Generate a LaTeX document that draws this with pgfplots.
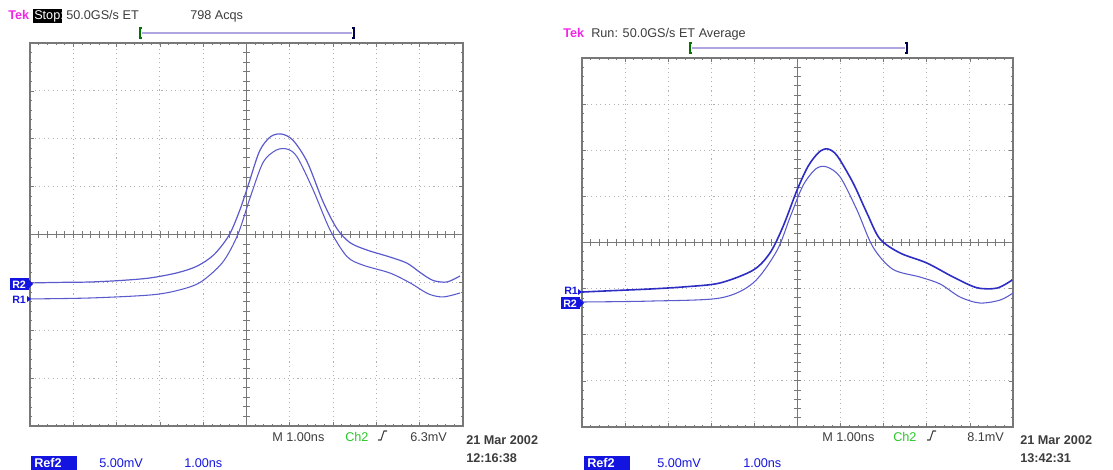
\documentclass[border=0pt]{standalone}
\usepackage{fontspec}
\setmainfont{Liberation Sans}
\usepackage{pgfplots}
\pgfplotsset{compat=1.18}

\definecolor{trace}{RGB}{90,90,205}
\definecolor{tracedk}{RGB}{45,45,195}
\definecolor{tekmag}{RGB}{240,40,230}
\definecolor{chgreen}{RGB}{40,200,40}
\definecolor{refblue}{RGB}{20,20,225}
\definecolor{barcol}{RGB}{175,165,225}
\definecolor{txt}{RGB}{60,60,60}
\definecolor{grat}{RGB}{120,120,120}

% one division = 1 ns horizontally, 5 mV vertically
\pgfplotsset{
  scope/.style={
    scale only axis,
    xmin=-5, xmax=5, ymin=-20, ymax=20,
    xtick distance=1, ytick distance=5,
    minor x tick num=4, minor y tick num=4,
    xticklabels={}, yticklabels={},
    tick pos=both, tick align=inside,
    major tick length=3pt, minor tick length=1.8pt,
    tick style={grat, line width=0.5pt},
    grid=major,
    major grid style={gray!60, line width=0.8pt, dash pattern=on 0.8pt off 2.6pt},
    axis line style={grat, line width=1pt},
  },
}

\newcommand{\crosshair}{%
  \draw[grat, line width=0.7pt] (axis cs:-5,0) -- (axis cs:5,0);
  \draw[grat, line width=0.7pt] (axis cs:0,-20) -- (axis cs:0,20);
  \pgfplotsinvokeforeach{-4.8,-4.6,...,4.8}{
    \draw[grat, line width=0.6pt] (axis cs:##1,-0.35) -- (axis cs:##1,0.35);}
  \pgfplotsinvokeforeach{-19,...,19}{
    \draw[grat, line width=0.6pt] (axis cs:-0.07,##1) -- (axis cs:0.07,##1);}
}

\begin{document}
\begin{tikzpicture}
\fontsize{9.5}{11}\selectfont

% ---------- left screen ----------
\begin{axis}[scope, at={(22.5pt,-319.5pt)}, anchor=south west,
             width=324.75pt, height=287.25pt]
\crosshair
% R2
\addplot[trace, line width=0.9pt, smooth, tension=0.5] coordinates {
 (-5.0,-5.06) (-4.3,-5.0) (-3.61,-4.96) (-2.9,-4.8) (-2.23,-4.54)
 (-1.6,-4.0) (-1.14,-3.3) (-0.75,-2.1) (-0.40,-0.05) (-0.15,2.6)
 (0.05,5.3) (0.30,8.7) (0.55,10.2) (0.80,10.5) (1.07,9.86)
 (1.40,7.6) (1.77,3.4) (2.09,0.6) (2.39,-0.85) (2.78,-1.62)
 (3.31,-2.35) (3.71,-3.0) (4.02,-4.0) (4.31,-4.8) (4.63,-4.96) (4.93,-4.33)};
% R1
\addplot[trace, line width=0.8pt, smooth, tension=0.5] coordinates {
 (-5.0,-6.73) (-3.61,-6.63) (-2.23,-6.32) (-1.6,-5.85) (-1.07,-5.0)
 (-0.55,-2.9) (-0.2,0.0) (0.08,3.8) (0.38,7.5) (0.68,8.8)
 (0.94,8.92) (1.17,8.09) (1.54,4.65) (1.93,0.47) (2.32,-2.3)
 (2.69,-3.2) (3.31,-4.02) (3.78,-5.06) (4.20,-6.2) (4.54,-6.52) (4.93,-6.11)};
\end{axis}

% ---------- right screen ----------
\begin{axis}[scope, at={(436.5pt,-320.25pt)}, anchor=south west,
             width=323.25pt, height=276.75pt]
\crosshair
% R1 (noisy)
\addplot[tracedk, line width=1.2pt, smooth, tension=0.5] coordinates {
 (-5.0,-5.37) (-4.2,-5.2) (-3.42,-5.04) (-2.6,-4.8) (-1.80,-4.39)
 (-1.03,-3.0) (-0.64,-1.14) (-0.34,1.68) (-0.01,5.69) (0.25,8.3)
 (0.50,9.8) (0.70,10.14) (0.92,9.4) (1.29,6.45) (1.61,3.20)
 (1.91,0.4) (2.38,-1.14) (3.00,-2.22) (3.61,-3.74) (4.16,-4.9)
 (4.63,-4.94) (4.98,-4.07)};
% R2
\addplot[trace, line width=0.8pt, smooth, tension=0.5] coordinates {
 (-5.0,-6.45) (-3.42,-6.35) (-1.80,-6.02) (-1.03,-4.39) (-0.48,-0.9)
 (-0.17,2.77) (0.13,6.2) (0.43,8.0) (0.68,8.19) (0.99,7.10)
 (1.38,3.52) (1.75,-0.49) (2.21,-2.9) (2.84,-3.74) (3.31,-4.5)
 (3.77,-5.91) (4.23,-6.56) (4.70,-6.24) (5.0,-5.48)};
\end{axis}

% ---------- annotations, in pixel units ----------
\begin{scope}[x=0.75pt, y=-0.75pt]
\path[use as bounding box] (0,0) rectangle (1113,470);

% left header
\node[anchor=base west, inner sep=0, text=tekmag, font=\bfseries] at (8,20) {Tek};
\fill[black] (33,9) rectangle (62,23);
\node[anchor=base west, inner sep=0, text=white] at (34,20) {Stop:};
\node[anchor=base west, inner sep=0, text=txt] at (66,20) {50.0GS/s ET};
\node[anchor=base west, inner sep=0, text=txt] at (190,20) {798 Acqs};
\draw[barcol, line width=0.8pt] (142,33) -- (352,33);
\draw[green!45!black, line width=0.9pt] (142,28) -- (140,28) -- (140,38) -- (142,38);
\draw[black!70!blue, line width=1.2pt] (352,28) -- (354,28) -- (354,38) -- (352,38);

% right header
\node[anchor=base west, inner sep=0, text=tekmag, font=\bfseries] at (563,38) {Tek};
\node[anchor=base west, inner sep=0, text=txt] at (591,38) {Run: 50.0GS/s ET Average};
\draw[barcol, line width=0.8pt] (692,48) -- (905,48);
\draw[green!45!black, line width=0.9pt] (692,43) -- (690,43) -- (690,53) -- (692,53);
\draw[black!70!blue, line width=1.2pt] (905,43) -- (907,43) -- (907,53) -- (905,53);

% left markers
\fill[refblue] (10,278) rectangle (29,290);
\node[anchor=base west, inner sep=0, text=white, font=\fontsize{8}{9}\selectfont\bfseries] at (12,288) {R2};
\fill[refblue] (29,280) -- (33,284) -- (29,288) -- cycle;
\node[anchor=base west, inner sep=0, text=refblue, font=\fontsize{8}{9}\selectfont\bfseries] at (12,303) {R1};
\fill[refblue] (27,296) -- (31,299) -- (27,302) -- cycle;

% right markers
\node[anchor=base west, inner sep=0, text=refblue, font=\fontsize{8}{9}\selectfont\bfseries] at (564,295) {R1};
\fill[refblue] (578,289) -- (582,292) -- (578,295) -- cycle;
\fill[refblue] (561,297) rectangle (580,309);
\node[anchor=base west, inner sep=0, text=white, font=\fontsize{8}{9}\selectfont\bfseries] at (563,307) {R2};
\fill[refblue] (580,299) -- (584,303) -- (580,307) -- cycle;

% left footer
\node[anchor=base west, inner sep=0, text=txt] at (272,441) {M 1.00ns};
\node[anchor=base west, inner sep=0, text=chgreen] at (345,441) {Ch2};
\draw[txt, line width=0.8pt] (378,440) -- (381,440) -- (384,431) -- (387,431);
\node[anchor=base west, inner sep=0, text=txt] at (410,441) {6.3mV};
\node[anchor=base west, inner sep=0, text=txt, font=\bfseries] at (466,444) {21 Mar 2002};
\node[anchor=base west, inner sep=0, text=txt, font=\bfseries] at (466,462) {12:16:38};
\fill[refblue] (31,456) rectangle (77,470);
\node[anchor=base west, inner sep=0, text=white, font=\bfseries] at (34,467) {Ref2};
\node[anchor=base west, inner sep=0, text=refblue] at (99,467) {5.00mV};
\node[anchor=base west, inner sep=0, text=refblue] at (184,467) {1.00ns};

% right footer
\node[anchor=base west, inner sep=0, text=txt] at (822,441) {M 1.00ns};
\node[anchor=base west, inner sep=0, text=chgreen] at (893,441) {Ch2};
\draw[txt, line width=0.8pt] (927,440) -- (930,440) -- (933,431) -- (936,431);
\node[anchor=base west, inner sep=0, text=txt] at (967,441) {8.1mV};
\node[anchor=base west, inner sep=0, text=txt, font=\bfseries] at (1020,444) {21 Mar 2002};
\node[anchor=base west, inner sep=0, text=txt, font=\bfseries] at (1020,462) {13:42:31};
\fill[refblue] (584,456) rectangle (630,470);
\node[anchor=base west, inner sep=0, text=white, font=\bfseries] at (587,467) {Ref2};
\node[anchor=base west, inner sep=0, text=refblue] at (657,467) {5.00mV};
\node[anchor=base west, inner sep=0, text=refblue] at (743,467) {1.00ns};
\end{scope}
\end{tikzpicture}
\end{document}
